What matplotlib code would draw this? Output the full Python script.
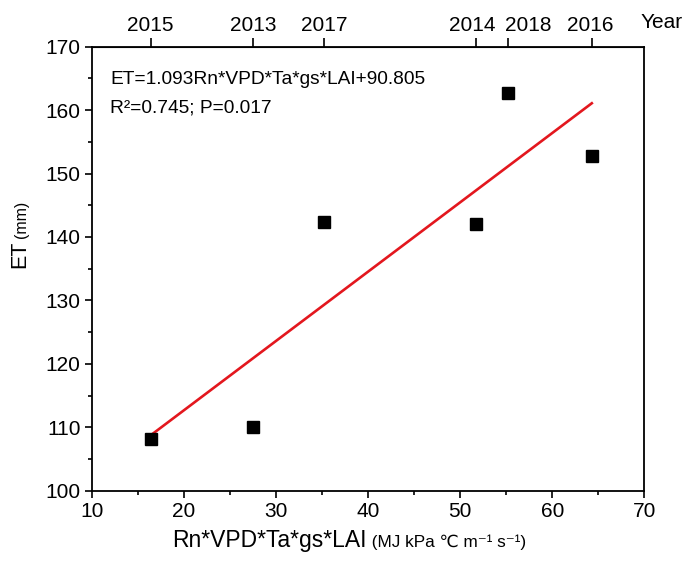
import matplotlib
matplotlib.use("Agg")
import matplotlib.pyplot as plt
import matplotlib.transforms as mtransforms
import numpy as np
from matplotlib.offsetbox import HPacker, TextArea, AnnotationBbox

plt.rcParams["font.family"] = ["Liberation Sans", "DejaVu Sans"]

# driver product (x), observed ET (y) and the year of each sample
driver = [16.4, 27.5, 35.2, 51.7, 55.2, 64.3]
et_mm = [108.1, 110.1, 142.3, 142.1, 162.7, 152.8]
years = ["2015", "2013", "2017", "2014", "2018", "2016"]

slope = 1.093
intercept = 90.805
r2 = 0.745
p_value = 0.017

W, H = 690, 562
fig = plt.figure(figsize=(W / 100, H / 100), dpi=100)
ax = fig.add_axes([91.7 / W, 1 - 490.7 / H, 552.6 / W, 444 / H])

ax.plot(driver, et_mm, "s", color="black", ms=8, zorder=3)
xfit = np.array([min(driver), max(driver)])
ax.plot(xfit, slope * xfit + intercept, color="#e3171e", lw=1.9, zorder=2)

ax.set_xlim(10, 70)
ax.set_ylim(100, 170)
ax.set_xticks(np.arange(10, 71, 10))
ax.set_yticks(np.arange(100, 171, 10))
ax.set_xticks(np.arange(15, 70, 10), minor=True)
ax.set_yticks(np.arange(105, 170, 10), minor=True)
ax.tick_params(which="major", direction="out", length=5, width=1.2, labelsize=15, pad=3)
ax.tick_params(which="minor", direction="out", length=3, width=1.2)
for s in ax.spines.values():
    s.set_linewidth(1.3)

top = ax.secondary_xaxis("top")
top.set_xticks(driver)
top.set_xticklabels(years)
top.tick_params(direction="out", length=6.5, width=1.2, labelsize=15, pad=2)
top.xaxis.set_minor_locator(matplotlib.ticker.NullLocator())
# nudge the crowded 2014/2018 labels apart
nudge = {"2014": -4, "2018": 20, "2016": -2}
for lab in top.get_xticklabels():
    dx = nudge.get(lab.get_text(), 0)
    if dx:
        lab.set_transform(lab.get_transform() +
                          mtransforms.ScaledTranslation(dx / 100, 0, fig.dpi_scale_trans))
fig.text(641 / W, 1 - 22 / H, "Year", fontsize=15, ha="left", va="center")

ax.text(110 / W, 1 - 80 / H, f"ET={slope}Rn*VPD*Ta*gs*LAI+{intercept}",
        transform=fig.transFigure, fontsize=13.8, ha="left", va="center")
ax.text(110 / W, 1 - 108 / H, f"R²={r2}; P={p_value}",
        transform=fig.transFigure, fontsize=13.8, ha="left", va="center")

# axis titles: large variable name, smaller units
xlab = HPacker(children=[
    TextArea("Rn*VPD*Ta*gs*LAI", textprops=dict(fontsize=16.5)),
    TextArea(" (MJ kPa ℃ m⁻¹ s⁻¹)", textprops=dict(fontsize=12.3)),
], align="baseline", pad=0, sep=0)
fig.add_artist(AnnotationBbox(xlab, (349 / W, 1 - 541 / H), xycoords="figure fraction",
                              frameon=False, box_alignment=(0.5, 0.5)))

fig.text(20 / W, 1 - 254 / H, "ET", fontsize=15.5, rotation=90, ha="center", va="center")
fig.text(21 / W, 1 - 219 / H, "(mm)", fontsize=11.5, rotation=90, ha="center", va="center")

fig.savefig("out.png", dpi=100)
